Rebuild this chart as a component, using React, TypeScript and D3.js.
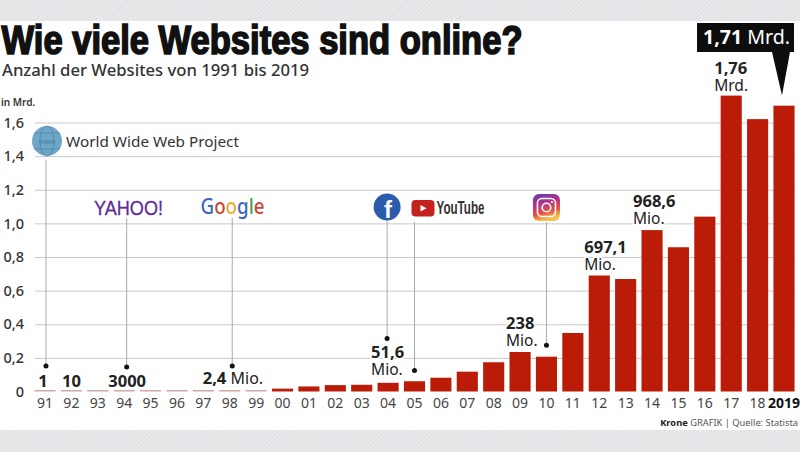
import React, { useEffect, useRef } from 'react';
import * as d3 from 'd3';

const width = 800;
const height = 452;

const years = ['91', '92', '93', '94', '95', '96', '97', '98', '99', '00', '01', '02', '03', '04', '05', '06', '07', '08', '09', '10', '11', '12', '13', '14', '15', '16', '17', '18', '2019'];
// in Mrd.
const sites = [0.000000001, 0.00000001, 0.00000013, 0.000003, 0.00002, 0.00026, 0.0011, 0.0024, 0.0032, 0.017, 0.03, 0.038, 0.04, 0.0516, 0.061, 0.082, 0.118, 0.174, 0.235, 0.207, 0.348, 0.69, 0.669, 0.96, 0.858, 1.04, 1.76, 1.62, 1.7];
const yTicks = [0, 0.2, 0.4, 0.6, 0.8, 1.0, 1.2, 1.4, 1.6];

const leaders = [
  { year: '91', dx: 1, top: 160, value: 0.152 },
  { year: '94', dx: 2.5, top: 218, value: 0.146 },
  { year: '98', dx: 2.5, top: 218, value: 0.152 },
  { year: '04', dx: -1, top: 220, value: 0.315 },
  { year: '05', dx: 0, top: 222, value: 0.125 },
  { year: '10', dx: 0, top: 222, value: 0.275 },
];

const valueLabels = [
  { year: '91', bold: '1', rest: '', dx: -2, y: 387, anchor: 'middle' },
  { year: '92', bold: '10', rest: '', dx: 0, y: 387, anchor: 'middle' },
  { year: '94', bold: '3000', rest: '', dx: 3, y: 387, anchor: 'middle' },
  { year: '98', bold: '2,4', rest: ' Mio.', dx: -27, y: 383.5, anchor: 'start' },
];

const stackedLabels = [
  { year: '04', bold: '51,6', rest: 'Mio.', dx: -17, y: 358 },
  { year: '09', bold: '238', rest: 'Mio.', dx: -14, y: 329 },
  { year: '12', bold: '697,1', rest: 'Mio.', dx: -15, y: 253 },
  { year: '14', bold: '968,6', rest: 'Mio.', dx: -19, y: 207 },
  { year: '17', bold: '1,76', rest: 'Mrd.', dx: -17, y: 74 },
];

const googleLetters = [
  { ch: 'G', color: '#3f66bd' },
  { ch: 'o', color: '#cf4334' },
  { ch: 'o', color: '#e2b02e' },
  { ch: 'g', color: '#3f66bd' },
  { ch: 'l', color: '#45a052' },
  { ch: 'e', color: '#cf4334' },
];

const BODY = '"Noto Sans", sans-serif';
const NARROW = '"Liberation Sans Narrow", "Liberation Sans", sans-serif';

export default function App() {
  const ref = useRef<SVGSVGElement | null>(null);

  useEffect(() => {
    const svg = d3.select(ref.current);
    svg.selectAll('*').remove();

    const x = d3.scaleBand().domain(years).range([31.8, 797.2]).paddingInner(0.2).paddingOuter(0.1);
    const y = d3.scaleLinear().domain([0, 1.6]).range([391.5, 122.5]);
    const cx = (yr: string) => (x(yr) as number) + x.bandwidth() / 2;

    // Background hatch
    const defs = svg.append('defs');
    const hatch = defs.append('pattern').attr('id', 'hatch').attr('width', 3).attr('height', 3)
      .attr('patternUnits', 'userSpaceOnUse').attr('patternTransform', 'rotate(45)');
    hatch.append('rect').attr('width', 3).attr('height', 3).attr('fill', '#ebebee');
    hatch.append('rect').attr('width', 1.2).attr('height', 3).attr('fill', '#dfdfe3');

    svg.append('rect').attr('width', width).attr('height', height).attr('fill', 'url(#hatch)');
    svg.append('rect').attr('y', 21).attr('width', width).attr('height', 409).attr('fill', '#fff');

    // Heading
    svg.append('text').attr('x', 1.5).attr('y', 54).text('Wie viele Websites sind online?')
      .attr('font-family', NARROW).attr('font-weight', 700).attr('font-size', 40)
      .attr('fill', '#111').attr('stroke', '#111').attr('stroke-width', 1.7)
      .attr('textLength', 521).attr('lengthAdjust', 'spacingAndGlyphs');
    svg.append('text').attr('x', 2).attr('y', 76).text('Anzahl der Websites von 1991 bis 2019')
      .attr('font-family', BODY).attr('font-weight', 500).attr('font-size', 16).attr('fill', '#333')
      .attr('textLength', 307).attr('lengthAdjust', 'spacingAndGlyphs');
    svg.append('text').attr('x', 1).attr('y', 106).text('in Mrd.')
      .attr('font-family', BODY).attr('font-weight', 600).attr('font-size', 10).attr('fill', '#333');

    // Y axis + grid
    const yAxis = svg.append('g').attr('transform', 'translate(35,0)')
      .call(d3.axisLeft(y).tickValues(yTicks).tickSize(0).tickPadding(11)
        .tickFormat(d => (d === 0 ? '0' : (d as number).toFixed(1).replace('.', ','))));
    yAxis.select('.domain').remove();
    yAxis.selectAll('.tick text')
      .attr('font-family', BODY).attr('font-weight', 500).attr('font-size', 14.5).attr('fill', '#333');
    yAxis.selectAll('.tick').filter((d: any) => d !== 0).append('line')
      .attr('x2', 760).attr('stroke', '#c9c9c9').attr('stroke-width', 1);

    // Leader lines
    const lead = svg.append('g');
    leaders.forEach(l => {
      const lx = cx(l.year) + l.dx;
      lead.append('line').attr('x1', lx).attr('x2', lx)
        .attr('y1', l.top).attr('y2', y(l.value)).attr('stroke', '#aaa').attr('stroke-width', 1);
      lead.append('circle').attr('cx', lx).attr('cy', y(l.value)).attr('r', 2.5).attr('fill', '#111');
    });

    // Bars
    svg.append('g').selectAll('rect').data(sites).enter().append('rect')
      .attr('x', (_, i) => x(years[i]) as number)
      .attr('width', x.bandwidth())
      .attr('y', d => Math.min(y(d), y(0) - 1.5))
      .attr('height', d => Math.max(y(0) - y(d), 1.5))
      .attr('fill', d => (y(0) - y(d) < 1.5 ? '#cdaaa5' : '#bb1c08'));

    // X axis
    const xAxis = svg.append('g').attr('transform', `translate(0,${y(0)})`)
      .call(d3.axisBottom(x).tickSize(0).tickPadding(7));
    xAxis.select('.domain').remove();
    xAxis.selectAll('.tick text')
      .attr('font-family', BODY).attr('font-size', 14)
      .attr('font-weight', (d: any) => (d === '2019' ? 700 : 400))
      .attr('fill', (d: any) => (d === '2019' ? '#111' : '#444'));

    // Value labels
    const halo = (t: any) => t.attr('paint-order', 'stroke').attr('stroke', '#fff').attr('stroke-width', 3);
    valueLabels.forEach(l => {
      const t = svg.append('text').attr('x', cx(l.year) + l.dx).attr('y', l.y)
        .attr('text-anchor', l.anchor).attr('font-family', BODY).attr('font-size', 16.5).attr('fill', '#222');
      t.append('tspan').attr('font-weight', 700).text(l.bold);
      if (l.rest) t.append('tspan').attr('font-size', 16).text(l.rest);
    });
    stackedLabels.forEach(l => {
      svg.append('text').attr('x', cx(l.year) + l.dx).attr('y', l.y).text(l.bold)
        .attr('font-family', BODY).attr('font-weight', 700).attr('font-size', 16.5).attr('fill', '#222').call(halo);
      svg.append('text').attr('x', cx(l.year) + l.dx).attr('y', l.y + 16.5).text(l.rest)
        .attr('font-family', BODY).attr('font-size', 15.5).attr('fill', '#222').call(halo);
    });

    // 2019 callout
    const c19 = cx('2019');
    svg.append('rect').attr('x', c19 - 87).attr('y', 23).attr('width', 97).attr('height', 29).attr('fill', '#0d0d0d');
    svg.append('path').attr('d', d3.line()([[c19 - 12, 52], [c19 + 6, 52], [c19 - 2, y(1.76)]]) + 'Z').attr('fill', '#0d0d0d');
    const callout = svg.append('text').attr('x', c19 - 81).attr('y', 44).attr('fill', '#fff').attr('font-family', BODY)
      .attr('font-size', 19).attr('textLength', 87).attr('lengthAdjust', 'spacingAndGlyphs');
    callout.append('tspan').attr('font-weight', 700).text('1,71 ');
    callout.append('tspan').attr('font-weight', 400).text('Mrd.');

    // Logos
    const www = svg.append('g').attr('transform', `translate(${cx('91') + 2},141)`);
    www.append('circle').attr('r', 15).attr('fill', '#6fa6c8');
    www.append('ellipse').attr('rx', 7).attr('ry', 15).attr('fill', 'none').attr('stroke', '#4f88ad').attr('stroke-width', 0.8);
    [-8, 8].forEach(dy => www.append('line').attr('x1', -13).attr('x2', 13).attr('y1', dy).attr('y2', dy).attr('stroke', '#4f88ad').attr('stroke-width', 0.8));
    www.append('text').attr('text-anchor', 'middle').attr('y', 2.5).attr('font-size', 6.5).attr('font-weight', 700)
      .attr('font-family', BODY).attr('fill', '#4f88ad').text('www');
    svg.append('text').attr('x', 66).attr('y', 147).text('World Wide Web Project')
      .attr('font-family', BODY).attr('font-size', 14.5).attr('fill', '#333')
      .attr('textLength', 173).attr('lengthAdjust', 'spacingAndGlyphs');

    svg.append('text').attr('x', 94).attr('y', 215).text('YAHOO!')
      .attr('font-family', '"Liberation Sans", sans-serif').attr('font-size', 21).attr('fill', '#5e2b97')
      .attr('stroke', '#5e2b97').attr('stroke-width', 0.3)
      .attr('textLength', 69).attr('lengthAdjust', 'spacingAndGlyphs');

    const g = svg.append('text').attr('x', 200.5).attr('y', 214)
      .attr('font-family', BODY).attr('font-size', 21).attr('font-weight', 500)
      .attr('textLength', 64).attr('lengthAdjust', 'spacingAndGlyphs');
    googleLetters.forEach(l => g.append('tspan').attr('fill', l.color).text(l.ch));

    const fb = svg.append('g').attr('transform', `translate(${cx('04') - 1},207)`);
    fb.append('circle').attr('r', 13.5).attr('fill', '#2b5bab');
    fb.append('text').attr('text-anchor', 'middle').attr('x', 1).attr('y', 11).attr('font-size', 24).attr('font-weight', 700)
      .attr('font-family', '"Liberation Sans", sans-serif').attr('fill', '#fff').text('f');

    const yt = svg.append('g').attr('transform', `translate(${cx('05') - 3},200)`);
    yt.append('rect').attr('width', 23).attr('height', 16.5).attr('rx', 4).attr('fill', '#c4221f');
    yt.append('path').attr('d', 'M9 5L15 8.2L9 11.5Z').attr('fill', '#fff');
    svg.append('text').attr('x', cx('05') + 22).attr('y', 214).text('YouTube')
      .attr('font-family', NARROW).attr('font-weight', 700).attr('font-size', 18).attr('fill', '#333')
      .attr('textLength', 48).attr('lengthAdjust', 'spacingAndGlyphs');

    const grad = defs.append('linearGradient').attr('id', 'insta').attr('x1', 0).attr('y1', 0).attr('x2', 0.3).attr('y2', 1);
    [['0%', '#5b3fb5'], ['40%', '#b52f8e'], ['75%', '#e4523f'], ['100%', '#f4c04e']].forEach(([o, col]) =>
      grad.append('stop').attr('offset', o).attr('stop-color', col));
    const ig = svg.append('g').attr('transform', `translate(${cx('10')},207.5)`);
    ig.append('rect').attr('x', -13.5).attr('y', -13.5).attr('width', 27).attr('height', 27).attr('rx', 6).attr('fill', 'url(#insta)');
    ig.append('rect').attr('x', -9).attr('y', -9).attr('width', 18).attr('height', 18).attr('rx', 4.5).attr('fill', 'none').attr('stroke', '#fff').attr('stroke-width', 1.6);
    ig.append('circle').attr('r', 4.3).attr('fill', 'none').attr('stroke', '#fff').attr('stroke-width', 1.6);
    ig.append('circle').attr('cx', 5.5).attr('cy', -5.5).attr('r', 1.1).attr('fill', '#fff');

    // Source line
    const src = svg.append('text').attr('x', 798).attr('y', 426).attr('text-anchor', 'end')
      .attr('font-family', BODY).attr('font-size', 9.3).attr('fill', '#555');
    src.append('tspan').attr('font-weight', 700).attr('fill', '#222').text('Krone');
    src.append('tspan').text(' GRAFIK | Quelle: Statista');
  }, []);

  return <svg ref={ref} width={width} height={height} style={{ position: 'absolute', left: 0, top: 0 }} />;
}
